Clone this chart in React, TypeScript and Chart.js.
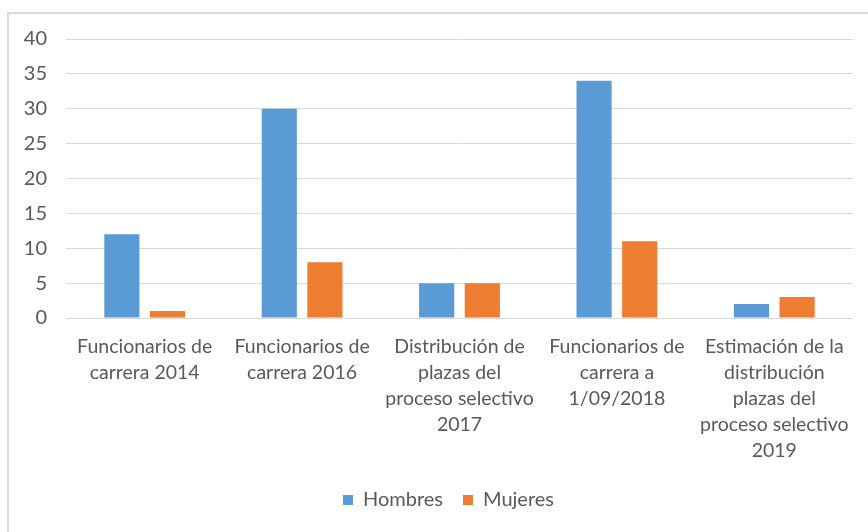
import React, { useEffect, useRef } from "react";
import { Chart, registerables } from "chart.js";

Chart.register(...registerables);

const categories: string[][] = [
  ["Funcionarios de", "carrera 2014"],
  ["Funcionarios de", "carrera 2016"],
  ["Distribución de", "plazas del", "proceso selectivo", "2017"],
  ["Funcionarios de", "carrera a", "1/09/2018"],
  ["Estimación de la", "distribución", "plazas del", "proceso selectivo", "2019"],
];
const hombres = [12, 30, 5, 34, 2];
const mujeres = [1, 8, 5, 11, 3];
const yTicks = [0, 5, 10, 15, 20, 25, 30, 35, 40];

const FONT = "Lato, 'Open Sans', sans-serif";
const TEXT = "#595959";

const legendShift = {
  id: "legendShift",
  afterLayout(chart: any) {
    if (chart.legend) {
      chart.legend.left += 22;
      chart.legend.right += 22;
    }
  },
};

export default function App() {
  const ref = useRef<HTMLCanvasElement>(null);
  useEffect(() => {
    if (!ref.current) return;
    const chart = new Chart(ref.current, {
      type: "bar",
      data: {
        labels: categories,
        datasets: [
          { label: "Hombres", data: hombres, backgroundColor: "#5B9BD5", borderWidth: 0 },
          { label: "Mujeres", data: mujeres, backgroundColor: "#ED7D31", borderWidth: 0 },
        ],
      },
      plugins: [legendShift],
      options: {
        responsive: false,
        animation: false,
        maintainAspectRatio: false,
        layout: { padding: { left: 0, right: 15, top: 39, bottom: 12 } },
        datasets: { bar: { categoryPercentage: 0.58, barPercentage: 0.77 } },
        plugins: {
          legend: {
            position: "bottom",
            labels: {
              boxWidth: 10,
              boxHeight: 10,
              padding: 20,
              color: TEXT,
              font: { family: FONT, size: 20 },
            },
          },
          tooltip: { enabled: false },
        },
        scales: {
          x: {
            grid: { display: false, drawTicks: false },
            border: { display: false },
            ticks: {
              color: TEXT,
              font: { family: FONT, size: 19.5, lineHeight: 1.33 },
              padding: 16,
              maxRotation: 0,
              autoSkip: false,
            },
            afterFit: (s: any) => {
              s.height = 152;
            },
          },
          y: {
            min: 0,
            max: 40,
            afterBuildTicks: (s: any) => {
              s.ticks = yTicks.map((v) => ({ value: v }));
            },
            grid: { color: "#D9D9D9", lineWidth: 1, drawTicks: false },
            border: { display: false },
            ticks: {
              color: TEXT,
              font: { family: FONT, size: 20 },
              padding: 19,
            },
            afterFit: (s: any) => {
              s.width = 66;
            },
          },
        },
      },
    });
    return () => chart.destroy();
  }, []);
  return (
    <div style={{ position: "absolute", left: 0, top: 0, width: 868, height: 532, overflow: "hidden", background: "#fff" }}>
      <div
        style={{
          position: "absolute",
          left: 7,
          top: 12,
          width: 920,
          height: 600,
          border: "2px solid #D9D9D9",
          boxSizing: "border-box",
        }}
      />
      <canvas ref={ref} width={868} height={532} style={{ position: "absolute", left: 0, top: 0 }} />
    </div>
  );
}
